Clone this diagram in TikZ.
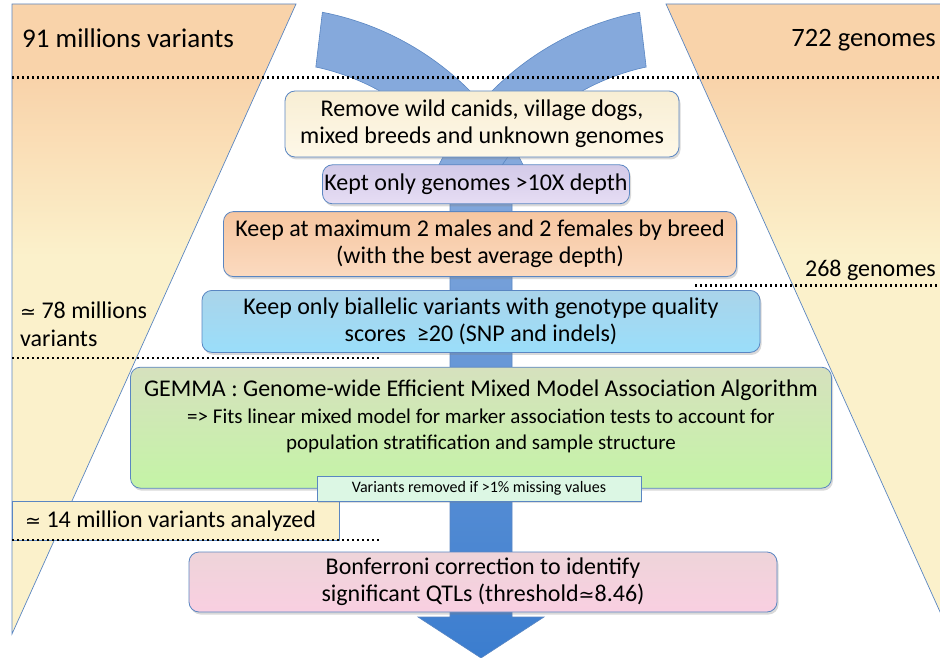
\documentclass[tikz,border=0pt]{standalone}
\usepackage{fontspec}
\setmainfont{Carlito}
\newfontfamily\symfont{DejaVu Sans}
\usepackage{tikz}
\usetikzlibrary{positioning,shadows}

\definecolor{arrowblue}{HTML}{85A9DC}
\definecolor{arrowdark}{HTML}{3B7DCF}
\definecolor{edgeblue}{HTML}{5A86C2}
\definecolor{peach}{HTML}{F9D3AA}
\definecolor{cream}{HTML}{FBF1CB}
\definecolor{mintnote}{HTML}{DCF7E4}
\pgfdeclareverticalshading{fadepeach}{100bp}{color(0bp)=(cream); color(55bp)=(cream); color(69bp)=(peach); color(100bp)=(peach)}
\newcommand{\approxsign}{{\symfont\fontsize{19}{19}\selectfont ≃}}

\begin{document}
\begin{tikzpicture}[x=1pt, y=-1pt, node distance=7pt, font=\fontsize{24}{27}\selectfont]
    % Styles
    \tikzstyle{stepbox} = [rectangle, rounded corners=10pt, draw=edgeblue, line width=0.8pt, align=center, inner sep=0pt,
                           drop shadow={shadow xshift=1.5pt, shadow yshift=-2.5pt, opacity=0.3}]
    \tikzstyle{notebox} = [rectangle, draw=edgeblue, line width=0.8pt, fill=mintnote, inner sep=0pt, font=\fontsize{16}{16}\selectfont,
                           drop shadow={shadow xshift=1pt, shadow yshift=-1.5pt, opacity=0.25}]
    \tikzstyle{tally} = [inner sep=0pt, font=\fontsize{24}{28}\selectfont]
    \tikzstyle{headcount} = [inner sep=0pt, font=\fontsize{27}{28}\selectfont]
    \tikzstyle{dots} = [line width=2.2pt, dash pattern=on 2.2pt off 2.8pt]
    \tikzstyle{band} = [fill=arrowblue, draw=edgeblue, line width=0.6pt]

    \clip (0,0) rectangle (940,658);

    % Side funnels
    \shadedraw[shading=fadepeach, draw=edgeblue, line width=0.7pt] (12,4) -- (296,4) -- (12,634) -- cycle;
    \shadedraw[shading=fadepeach, draw=edgeblue, line width=0.7pt] (666,4) -- (950,4) -- (950,634) -- cycle;

    % Big arrow: shaft, then the two bent arms
    \coordinate (lc) at (268,292);
    \coordinate (rc) at (694,292);
    \shadedraw[top color=arrowblue, bottom color=arrowdark, draw=edgeblue, line width=0.6pt]
        (450,170) -- (512,170) -- (512,617) -- (544,617) -- (481,658) -- (418,617) -- (450,617) -- cycle;
    \filldraw[band] ([shift={(lc)}]-79:285) arc[start angle=-79, end angle=-24.2, radius=285]
        -- ([shift={(lc)}]-30.6:230) arc[start angle=-30.6, end angle=-78, radius=230] -- cycle;
    \filldraw[band] ([shift={(rc)}]-101:285) arc[start angle=-101, end angle=-155.8, radius=285]
        -- ([shift={(rc)}]-149.4:230) arc[start angle=-149.4, end angle=-102, radius=230] -- cycle;

    % Dotted separators
    \draw[dots] (12,77.5) -- (940,77.5);
    \draw[dots] (695,285.5) -- (940,285.5);
    \draw[dots] (12,358) -- (380,358);

    % Counts
    \node (total) [headcount, anchor=west] at (22,38) {91 millions variants};
    \node (allgenomes) [headcount, font=\fontsize{26.5}{28}\selectfont, anchor=east] at (936,40) {722 genomes};
    \node (keptgenomes) [tally, anchor=east] at (936,270) {268 genomes};
    \node (biallelcount) [tally, anchor=north west, align=left] at (20,302) {\approxsign\ 78 millions\\variants};
    \node (analyzed) [tally, rectangle, draw=edgeblue, line width=0.7pt, fill=cream, anchor=north west,
                      minimum width=327pt, minimum height=39pt] at (12,501) {};
    \node (analyzedtext) [tally, anchor=west] at ([xshift=13pt]analyzed.west) {\approxsign\ 14 million variants analyzed};
    \draw[dots] (12,540) -- (380,540);

    % Filtering steps
    \node (remove) [stepbox, top color={rgb,255:red,248;green,238;blue,212}, bottom color={rgb,255:red,254;green,248;blue,232},
                    minimum width=394pt, minimum height=66pt]
        at (482,124) {Remove wild canids, village dogs,\\mixed breeds and unknown genomes};
    \node (depth) [stepbox, top color={rgb,255:red,211;green,202;blue,232}, bottom color={rgb,255:red,230;green,221;blue,244},
                   minimum width=307pt, minimum height=39pt, below=of remove, xshift=-6pt] {Kept only genomes >10X depth};
    \node (breed) [stepbox, top color={rgb,255:red,246;green,198;blue,160}, bottom color={rgb,255:red,251;green,218;blue,192},
                   minimum width=513pt, minimum height=65pt, below=of depth, xshift=4pt]
        {Keep at maximum 2 males and 2 females by breed\\(with the best average depth)};
    \node (biallelic) [stepbox, top color={rgb,255:red,170;green,212;blue,234}, bottom color={rgb,255:red,154;green,222;blue,250},
                       minimum width=558pt, minimum height=62pt, below=13pt of breed, xshift=1pt]
        {Keep only biallelic variants with genotype quality\\scores ~≥20 (SNP and indels)};
    \node (gemma) [stepbox, top color={rgb,255:red,214;green,225;blue,190}, bottom color={rgb,255:red,196;green,244;blue,166},
                   minimum width=701pt, minimum height=121pt, below=14pt of biallelic] {};
    \node (gemmatitle) [below=10pt of gemma.north] {GEMMA : Genome-wide Efficient Mixed Model Association Algorithm};
    \node (gemmanote) [below=1pt of gemmatitle, align=center, font=\fontsize{21}{26}\selectfont]
        {=> Fits linear mixed model for marker association tests to account for\\population stratification and sample structure};
    \node (missing) [notebox, minimum width=324pt, minimum height=25pt, xshift=-2pt] at (gemma.south) {Variants removed if >1\% missing values};
    \node (bonf) [stepbox, top color={rgb,255:red,238;green,212;blue,217}, bottom color={rgb,255:red,249;green,207;blue,225},
                  minimum width=588pt, minimum height=60pt, below=63pt of gemma, xshift=2pt]
        {Bonferroni correction to identify\\significant QTLs (threshold\approxsign 8.46)};

\end{tikzpicture}
\end{document}
